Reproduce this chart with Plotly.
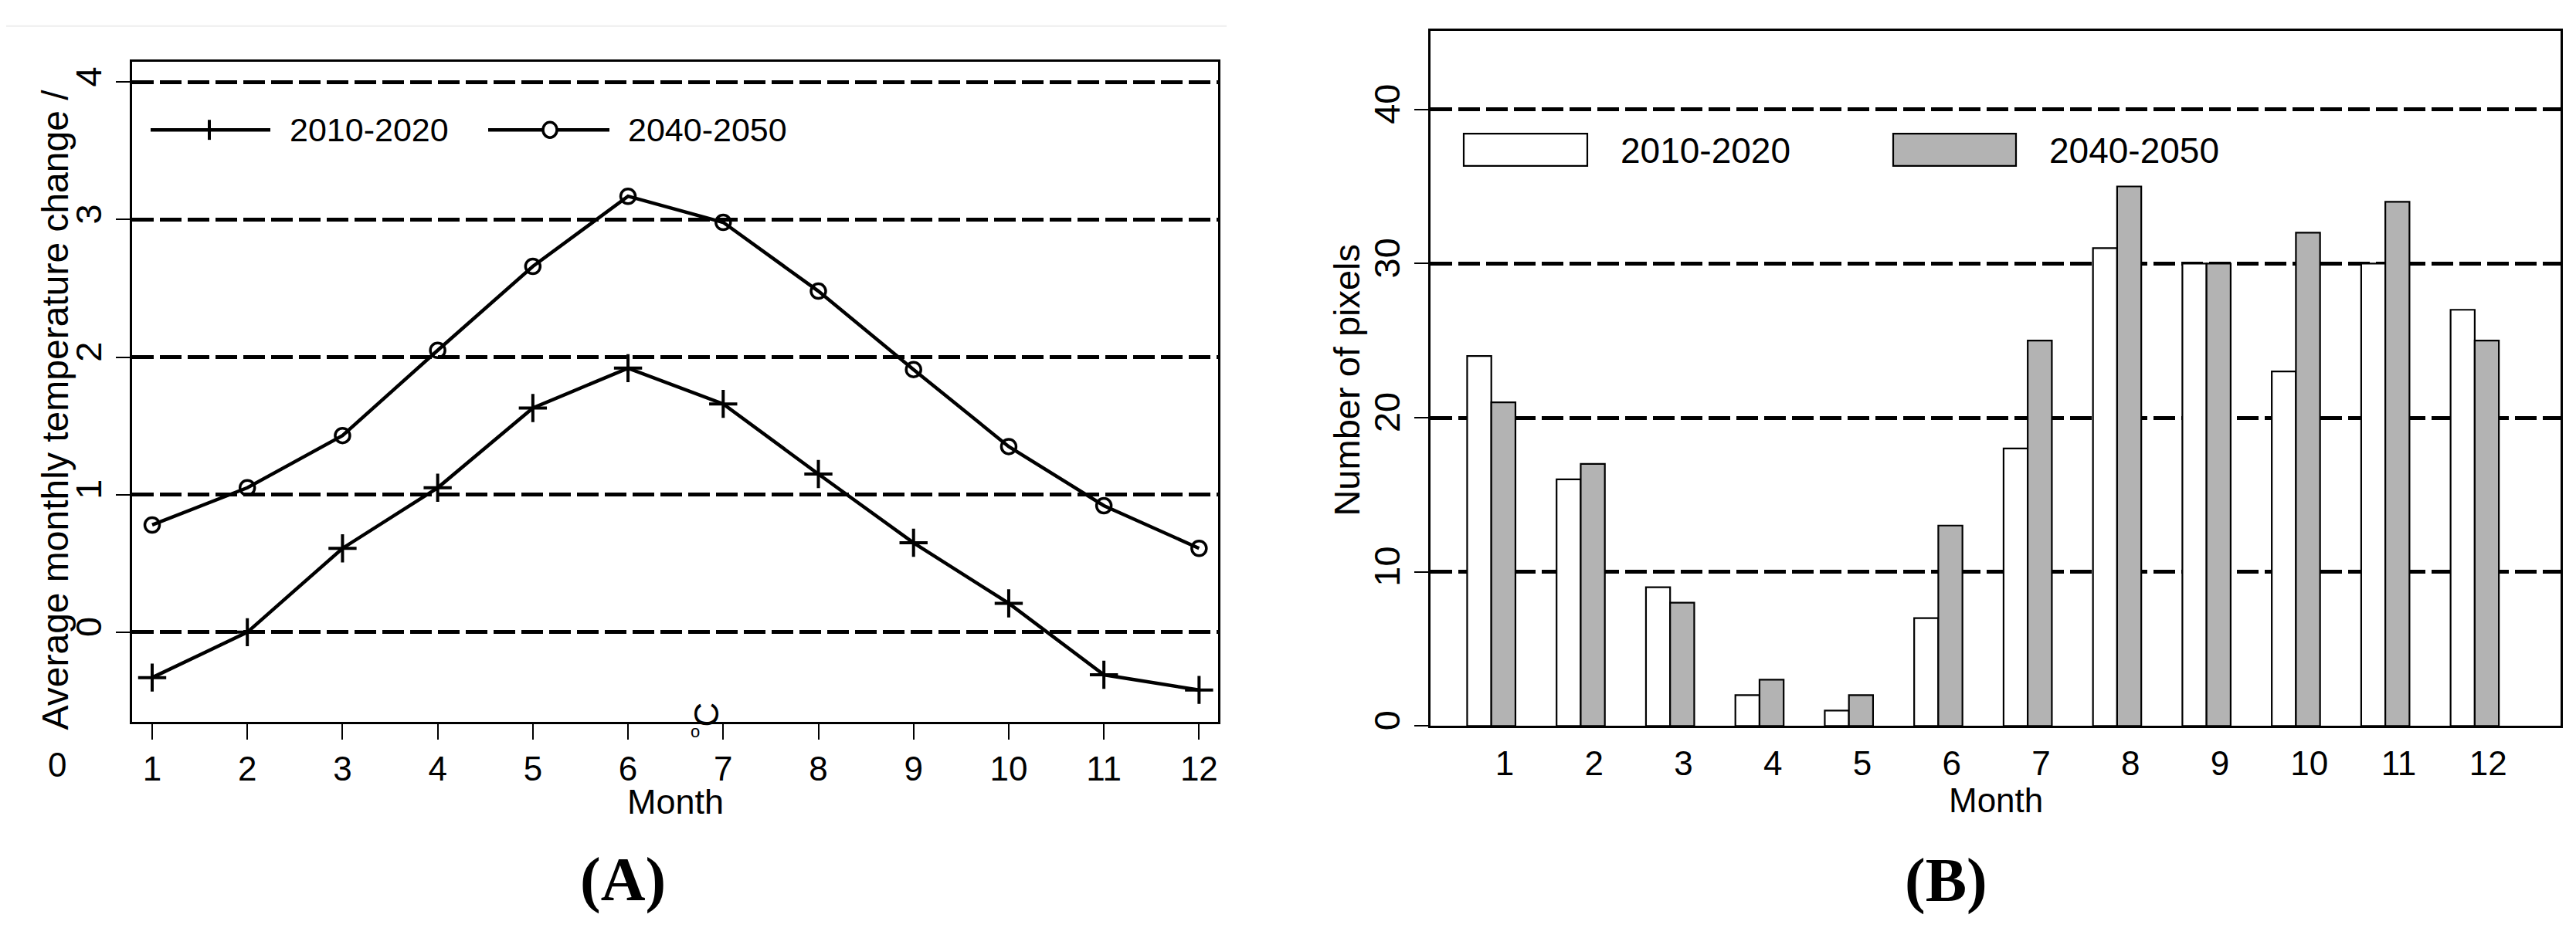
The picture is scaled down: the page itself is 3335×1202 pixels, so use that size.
import plotly.graph_objects as go

W, H = 3335, 1202

# ---------------- data ----------------
months = [1, 2, 3, 4, 5, 6, 7, 8, 9, 10, 11, 12]
month_labels = ["1", "2", "3", "4", "5", "6", "7", "8", "9", "10", "11", "12"]
series_names = ["2010-2020", "2040-2050"]

temp_2010_2020 = [-0.33, 0.00, 0.61, 1.05, 1.63, 1.92, 1.66, 1.15, 0.65, 0.21, -0.31, -0.42]
temp_2040_2050 = [0.78, 1.05, 1.43, 2.05, 2.66, 3.17, 2.98, 2.48, 1.91, 1.35, 0.92, 0.61]

pixels_2010_2020 = [24, 16, 9, 2, 1, 7, 18, 31, 30, 23, 30, 27]
pixels_2040_2050 = [21, 17, 8, 3, 2, 13, 25, 35, 30, 32, 34, 25]

temp_ticks = [0, 1, 2, 3, 4]
pixel_ticks = [0, 10, 20, 30, 40]

# ---------------- styling ----------------
NARROW = "Liberation Sans Narrow, Arial Narrow, Liberation Sans, Arial, sans-serif"
REG = "Liberation Sans, Arial, Helvetica, sans-serif"
SERIF = "Liberation Serif, Times New Roman, serif"
GRAY = "#b3b3b3"


def px(x):
    return x / W


def py(y):
    return 1 - y / H


fig = go.Figure()

# Panel A: lines
fig.add_trace(go.Scatter(
    x=months, y=temp_2010_2020, name=series_names[0], mode="lines+markers",
    line=dict(color="black", width=4.5),
    marker=dict(symbol="cross-thin", size=26, line=dict(color="black", width=4)),
    xaxis="x", yaxis="y", showlegend=False))
fig.add_trace(go.Scatter(
    x=months, y=temp_2040_2050, name=series_names[1], mode="lines+markers",
    line=dict(color="black", width=4.5),
    marker=dict(symbol="circle-open", size=19, color="black", line=dict(color="black", width=3.5)),
    xaxis="x", yaxis="y", showlegend=False))

# Panel B: bars
fig.add_trace(go.Bar(
    x=months, y=pixels_2010_2020, name=series_names[0], width=0.27, offset=-0.42,
    marker=dict(color="white", line=dict(color="black", width=2.2)),
    xaxis="x2", yaxis="y2", showlegend=False))
fig.add_trace(go.Bar(
    x=months, y=pixels_2040_2050, name=series_names[1], width=0.27, offset=-0.15,
    marker=dict(color=GRAY, line=dict(color="black", width=2.2)),
    xaxis="x2", yaxis="y2", showlegend=False))

common_x = dict(showline=True, mirror=True, linecolor="black", linewidth=2.5,
                showgrid=False, zeroline=False, tickmode="array",
                tickvals=months, ticktext=month_labels,
                tickfont=dict(family=NARROW, size=44, color="black"))
common_y = dict(showline=True, mirror=True, linecolor="black", linewidth=2.5,
                showgrid=True, gridcolor="black", gridwidth=5, griddash="28px,8px",
                zeroline=False, tickmode="array", tickangle=-90,
                ticks="outside", ticklen=18, tickwidth=2, tickcolor="black",
                tickfont=dict(family=REG, size=47, color="black"))

fig.update_layout(
    width=W, height=H,
    margin=dict(l=0, r=0, t=0, b=0),
    paper_bgcolor="white", plot_bgcolor="white",
    barmode="overlay",
    xaxis=dict(domain=[px(163), px(1569)], range=[0.789, 12.2],
               ticks="outside", ticklen=20, tickwidth=2, tickcolor="black",
               ticklabelstandoff=0, anchor="y", **common_x),
    yaxis=dict(domain=[py(932), py(72)], range=[-0.654, 4.15],
               tickvals=temp_ticks, ticktext=[str(t) for t in temp_ticks],
               anchor="x", **common_y),
    xaxis2=dict(domain=[px(1844), px(3307)], range=[0.17, 12.81],
                ticks="", ticklabelstandoff=8, anchor="y2", **common_x),
    yaxis2=dict(domain=[py(937), py(32)], range=[0, 45.1],
                tickvals=pixel_ticks, ticktext=[str(t) for t in pixel_ticks],
                anchor="x2", **common_y),
)

ann = []


def text(t, x, y, size, family, xanchor="center", angle=0, bold=False):
    ann.append(dict(text=("<b>" + t + "</b>") if bold else t,
                    x=px(x), y=py(y), xref="paper", yref="paper",
                    xanchor=xanchor, yanchor="middle", showarrow=False,
                    textangle=angle,
                    font=dict(family=family, size=size, color="black")))


# Panel A texts
text("Average monthly temperature change /", 63, 525, 48, REG, angle=-90)
text("0", 66, 987, 44, NARROW)
text("C", 906, 922, 44, REG, angle=-90)
text("o", 892, 944, 22, REG)
text("Month", 866, 1036, 45, NARROW)
text("(A)", 798, 1137, 80, SERIF, bold=True)
text(series_names[0], 365, 161, 43, NARROW, xanchor="left")
text(series_names[1], 803, 161, 43, NARROW, xanchor="left")

# Panel B texts
text("Number of pixels", 1736, 486, 47, REG, angle=-90)
text("Month", 2576, 1034, 44, NARROW)
text("(B)", 2511, 1138, 80, SERIF, bold=True)
text(series_names[0], 2088, 188, 46, NARROW, xanchor="left")
text(series_names[1], 2643, 188, 46, NARROW, xanchor="left")

fig.update_layout(annotations=ann)

shapes = []


def line(x0, y0, x1, y1, w, color="black"):
    shapes.append(dict(type="line", xref="paper", yref="paper",
                       x0=px(x0), y0=py(y0), x1=px(x1), y1=py(y1),
                       line=dict(color=color, width=w)))


# faint scan line at top of panel A
line(0, 26, 1580, 26, 2, "#eeeeee")
# legend keys panel A
line(187, 161, 342, 161, 4.5)
line(263, 148, 263, 174, 4)
line(624, 161, 781, 161, 4.5)
shapes.append(dict(type="circle", xref="paper", yref="paper",
                   x0=px(695), x1=px(713), y0=py(171), y1=py(151),
                   fillcolor="white", line=dict(color="black", width=3.5)))
# legend keys panel B
shapes.append(dict(type="rect", xref="paper", yref="paper",
                   x0=px(1887), x1=px(2047), y0=py(208), y1=py(166),
                   fillcolor="white", line=dict(color="black", width=2.2)))
shapes.append(dict(type="rect", xref="paper", yref="paper",
                   x0=px(2443), x1=px(2602), y0=py(208), y1=py(166),
                   fillcolor=GRAY, line=dict(color="black", width=2.2)))

fig.update_layout(shapes=shapes)

fig.write_html("out.html")
